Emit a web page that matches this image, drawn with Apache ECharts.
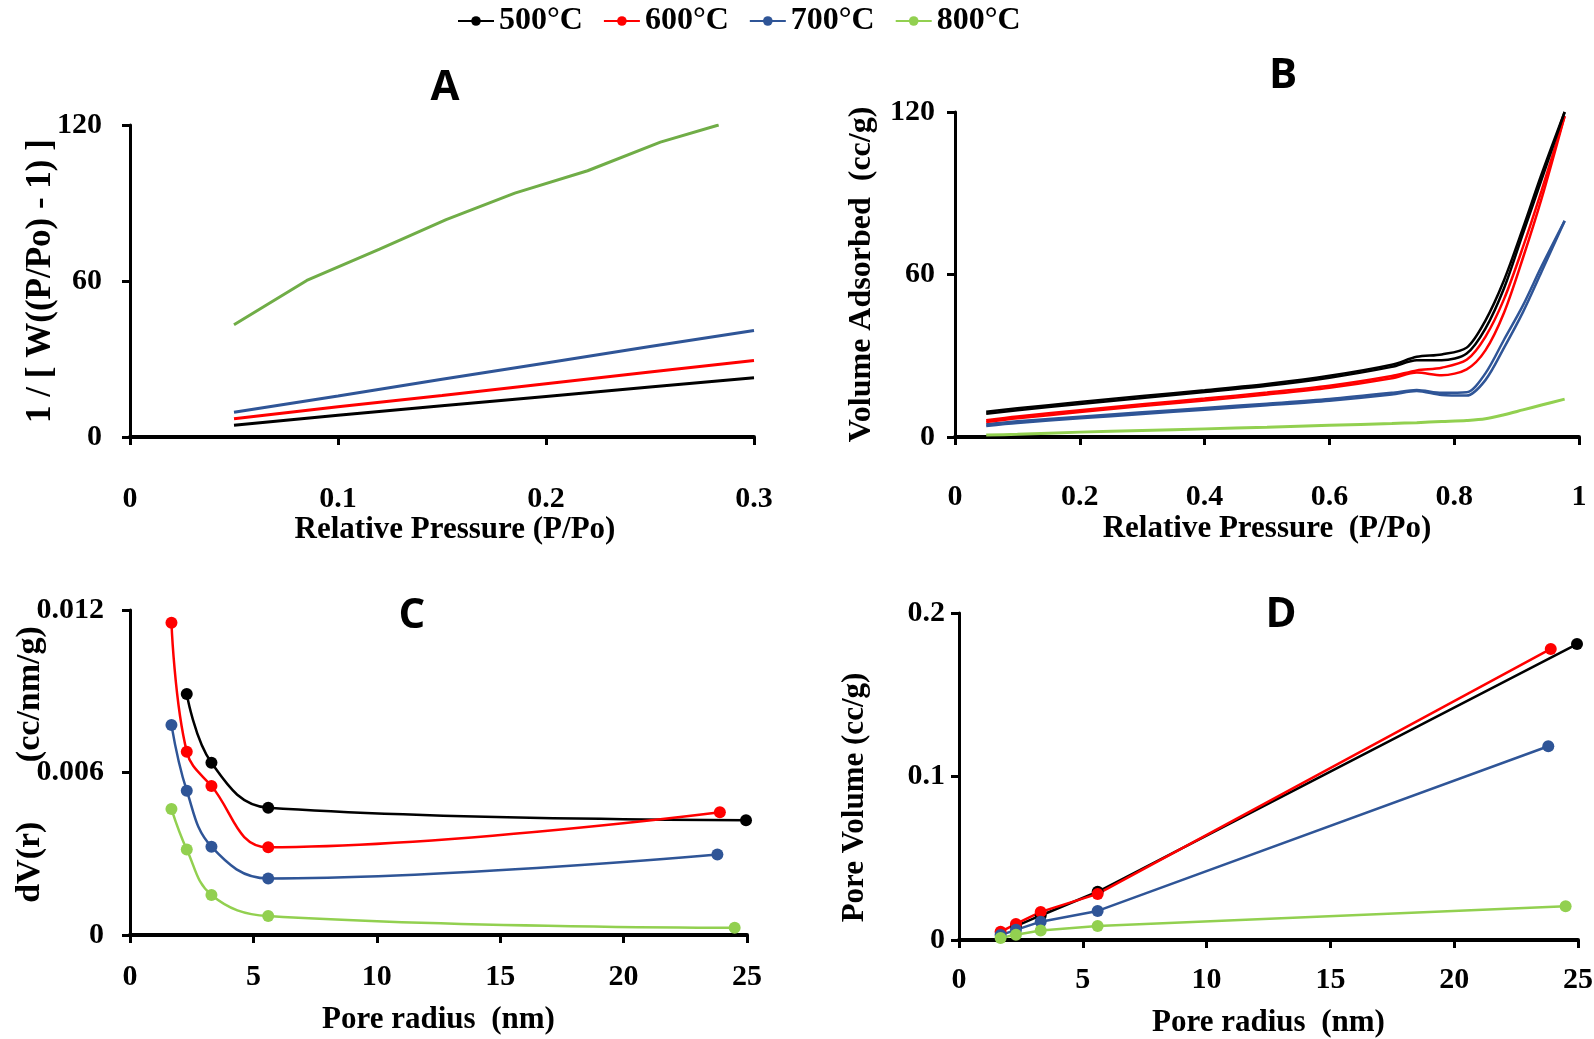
<!DOCTYPE html>
<html>
<head>
<meta charset="utf-8">
<script src="https://cdn.jsdelivr.net/npm/echarts@6/dist/echarts.min.js"></script>
<style>
  html, body { margin: 0; padding: 0; background: #fff; }
  #chart { width: 1594px; height: 1039px; }
</style>
</head>
<body>
<div id="chart"></div>
<script>
const names = ['500°C', '600°C', '700°C', '800°C'];

// A - BET plot
const betP = [0.05, 0.1, 0.15, 0.2, 0.25, 0.3];
const bet500 = [4.5, 8.4, 12.0, 15.6, 19.2, 22.8];
const bet600 = [7.0, 11.6, 16.0, 20.5, 25.0, 29.4];
const bet700 = [9.5, 15.8, 22.2, 28.5, 34.8, 41.0];
const betP800 = [0.05, 0.085, 0.12, 0.152, 0.185, 0.22, 0.255, 0.283];
const bet800 = [43.2, 60.2, 72.3, 83.6, 93.8, 102.4, 113.4, 120];

// B - isotherms (adsorption / desorption branches)
const isoP = [0.05, 0.1, 0.2, 0.3, 0.4, 0.5, 0.6, 0.7, 0.74, 0.78, 0.82, 0.85, 0.88, 0.91, 0.94, 0.977];
const ads500 = [8.6, 9.9, 12.2, 14.4, 16.6, 18.9, 21.9, 25.9, 28.3, 28.3, 30.8, 40, 55, 75, 95, 120];
const des500 = [9.3, 10.6, 12.9, 15.1, 17.3, 19.6, 22.6, 26.7, 29.6, 30.5, 33.0, 43, 58, 77, 97, 120];
const ads600 = [5.5, 6.9, 9.2, 11.4, 13.5, 15.7, 18.2, 21.7, 23.8, 22.8, 25.0, 32, 46, 66, 88, 118.5];
const des600 = [6.2, 7.6, 9.9, 12.1, 14.2, 16.4, 18.9, 22.5, 24.6, 25.6, 28.5, 37, 51, 70, 91, 118.5];
const ads700 = [4.1, 5.2, 6.9, 8.5, 10.1, 11.7, 13.4, 15.7, 17.0, 15.5, 15.3, 21, 33, 46, 61, 79.8];
const des700 = [4.7, 5.8, 7.5, 9.1, 10.7, 12.3, 14.0, 16.3, 17.4, 16.3, 16.5, 23.5, 36, 48.5, 63, 79.8];
const ads800 = [0.7, 1.0, 1.8, 2.4, 3.0, 3.6, 4.3, 5.0, 5.3, 5.7, 6.1, 6.7, 8.2, 10.0, 11.8, 14.0];

// C / D - pore size distribution
const r500 = [2.3, 3.3, 5.6, 24.96];
const r600 = [1.68, 2.3, 3.3, 5.6, 23.9];
const r700 = [1.68, 2.3, 3.3, 5.6, 23.8];
const r800 = [1.68, 2.3, 3.3, 5.6, 24.5];
const dv500 = [0.0089, 0.00636, 0.0047, 0.00424];
const dv600 = [0.01153, 0.00677, 0.0055, 0.00324, 0.00453];
const dv700 = [0.00775, 0.00533, 0.00326, 0.00209, 0.00297];
const dv800 = [0.00465, 0.00316, 0.00148, 0.0007, 0.00027];
const pv500 = [0.0085, 0.015, 0.0295, 0.181];
const pv600 = [0.005, 0.0098, 0.0172, 0.0282, 0.178];
const pv700 = [0.003, 0.0062, 0.0112, 0.0178, 0.1185];
const pv800 = [0.0012, 0.0032, 0.0058, 0.0085, 0.0207];

const colors = ['#000000', '#ff0000', '#2f5597', '#92d050'];
const greenA = '#70ad47';
const serif = 'Liberation Serif';

const zip = (xs, ys) => xs.map((x, i) => [x, ys[i]]);

function axisX(grid, min, max, interval, name, labelMargin, nameGap, nameSize, namePad) {
    return {
        type: 'value', gridIndex: grid, min: min, max: max, interval: interval,
        axisLine: { lineStyle: { color: '#000', width: 4 } },
        axisTick: { length: 8, lineStyle: { color: '#000', width: 3 } },
        splitLine: { show: false },
        axisLabel: { margin: labelMargin, color: '#000', fontFamily: serif, fontWeight: 'bold', fontSize: 30 },
        name: name, nameLocation: 'middle', nameGap: nameGap, nameMoveOverlap: false,
        nameTextStyle: {
            color: '#000', fontFamily: serif, fontWeight: 'bold',
            fontSize: nameSize || 31, padding: namePad || 0
        }
    };
}

function axisY(grid, min, max, interval, name, labelMargin, nameGap, nameSize, namePad) {
    const ax = axisX(grid, min, max, interval, name, labelMargin, nameGap, nameSize || 32, namePad);
    ax.axisLine.lineStyle.width = 3;
    return ax;
}

function pts(grid, name, data, color, smooth, width) {
    return {
        type: 'line', name: name, xAxisIndex: grid, yAxisIndex: grid, data: data,
        smooth: smooth, showSymbol: false, symbol: 'none',
        lineStyle: { color: color, width: width || 3 }, itemStyle: { color: color }
    };
}

function marked(grid, name, data, color, smooth) {
    return {
        type: 'line', name: name, xAxisIndex: grid, yAxisIndex: grid, data: data,
        smooth: smooth, symbol: 'circle', symbolSize: 12, showSymbol: true,
        lineStyle: { color: color, width: 2.5 }, itemStyle: { color: color }
    };
}

const series = [
    marked(2, names[0], zip(r500, dv500), colors[0], 0.4),
    marked(2, names[1], zip(r600, dv600), colors[1], 0.4),
    marked(2, names[2], zip(r700, dv700), colors[2], 0.4),
    marked(2, names[3], zip(r800, dv800), colors[3], 0.4),

    pts(0, names[0], zip(betP, bet500), colors[0], false),
    pts(0, names[1], zip(betP, bet600), colors[1], false),
    pts(0, names[2], zip(betP, bet700), colors[2], false),
    pts(0, names[3], zip(betP800, bet800), greenA, false),

    pts(1, names[3], zip(isoP, ads800), colors[3], 0.3),
    pts(1, names[2], zip(isoP, ads700), colors[2], 0.3, 2.5),
    pts(1, names[2], zip(isoP, des700), colors[2], 0.3, 2.5),
    pts(1, names[1], zip(isoP, ads600), colors[1], 0.3, 2.5),
    pts(1, names[1], zip(isoP, des600), colors[1], 0.3, 2.5),
    pts(1, names[0], zip(isoP, ads500), colors[0], 0.3, 2.5),
    pts(1, names[0], zip(isoP, des500), colors[0], 0.3, 2.5),

    marked(3, names[0], zip(r500, pv500), colors[0], false),
    marked(3, names[1], zip(r600, pv600), colors[1], false),
    marked(3, names[2], zip(r700, pv700), colors[2], false),
    marked(3, names[3], zip(r800, pv800), colors[3], false)
];

const panelLetter = (text, x, y) => ({
    type: 'text', x: x, y: y,
    style: { text: text, fontFamily: 'Open Sans', fontWeight: 'bold', fontSize: 42, fill: '#000', textAlign: 'center', textVerticalAlign: 'middle' }
});

const chart = echarts.init(document.getElementById('chart'));
chart.setOption({
    animation: false,
    backgroundColor: '#fff',
    legend: {
        data: names, top: 0, left: 452, itemWidth: 36, itemHeight: 12, itemGap: 20,
        textStyle: { color: '#000', fontFamily: serif, fontWeight: 'bold', fontSize: 32 }
    },
    graphic: [
        panelLetter('A', 445, 88),
        panelLetter('B', 1283, 76),
        panelLetter('C', 412, 616),
        panelLetter('D', 1281, 615)
    ],
    grid: [
        { left: 130, top: 125, width: 624, height: 312, outerBoundsMode: 'none' },
        { left: 955, top: 112, width: 624, height: 325, outerBoundsMode: 'none' },
        { left: 130, top: 610, width: 617, height: 325, outerBoundsMode: 'none' },
        { left: 959, top: 613, width: 619, height: 327, outerBoundsMode: 'none' }
    ],
    xAxis: [
        axisX(0, 0, 0.3, 0.1, 'Relative Pressure (P/Po)', 47, 77, 31, [0, 0, 0, 26]),
        axisX(1, 0, 1, 0.2, 'Relative Pressure  (P/Po)', 45, 76),
        axisX(2, 0, 25, 5, 'Pore radius  (nm)', 27, 69),
        axisX(3, 0, 25, 5, 'Pore radius  (nm)', 25, 67)
    ],
    yAxis: [
        axisY(0, 0, 120, 60, '1 / [ W((P/Po) - 1) ]', 28, 72, 35),
        axisY(1, 0, 120, 60, 'Volume Adsorbed  (cc/g)', 20, 77),
        axisY(2, 0, 0.012, 0.006, 'dV(r)       (cc/nm/g)', 26, 83, 34, [0, 0, 0, 16]),
        axisY(3, 0, 0.2, 0.1, 'Pore Volume (cc/g)', 14, 89, 31, [0, 42, 0, 0])
    ],
    series: series
});
</script>
</body>
</html>
